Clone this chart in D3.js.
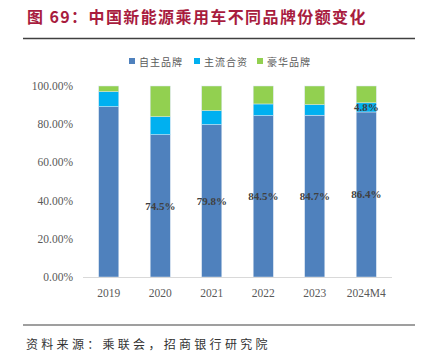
<!DOCTYPE html>
<html><head><meta charset="utf-8">
<script src="https://cdn.jsdelivr.net/npm/d3@7"></script>
<style>body{margin:0;background:#fff}svg{display:block}</style>
</head><body>
<script>
const categories = ["2019","2020","2021","2022","2023","2024M4"];
const domestic = [89.2, 74.5, 79.8, 84.5, 84.7, 86.4];
const jointVenture = [7.8, 9.4, 7.3, 6.1, 5.5, 4.8];
const luxury = [3.0, 16.1, 12.9, 9.4, 9.8, 8.8];
const seriesNames = ["自主品牌","主流合资","豪华品牌"];
const yTicks = [0,20,40,60,80,100];
const domesticLabels = [null,"74.5%","79.8%","84.5%","84.7%","86.4%"];
const jvLabels = [null,null,null,null,null,"4.8%"];

const W=424,H=360;
const svg=d3.select("body").append("svg").attr("width",W).attr("height",H);
const colors=["#4f81bd","#00b0f0","#92d050"];
const serif="'Liberation Serif','Times New Roman',serif";
const cjk="'Noto Sans CJK SC',sans-serif";

svg.append("text").attr("x",27).attr("y",23).attr("fill","#a81c3e")
  .attr("font-family",cjk).attr("font-weight","bold").attr("font-size",16).attr("letter-spacing",1.4)
  .text("图 69：中国新能源乘用车不同品牌份额变化");
svg.append("line").attr("x1",23).attr("x2",415).attr("y1",38.5).attr("y2",38.5).attr("stroke","#404040").attr("stroke-width",1.5);

const x=d3.scaleBand().domain(categories).range([83,392]).paddingInner(0.61).paddingOuter(0.305);
const y=d3.scaleLinear().domain([0,100]).range([277,86]);

// legend
const lx=[129,194,257];
seriesNames.forEach((n,i)=>{
  svg.append("rect").attr("x",lx[i]).attr("y",58).attr("width",6).attr("height",6).attr("fill",colors[i]);
  svg.append("text").attr("x",lx[i]+10).attr("y",65.5).attr("font-family",cjk).attr("font-size",10).attr("letter-spacing",1).attr("fill","#595959").text(n);
});

// y axis labels
svg.append("g").selectAll("text").data(yTicks).join("text")
  .attr("x",73).attr("y",d=>y(d)+4).attr("text-anchor","end")
  .attr("font-family",serif).attr("font-size",11.5).attr("fill","#595959")
  .text(d=>d.toFixed(2)+"%");

const stacked = categories.map((c,i)=>({c, vals:[domestic[i],jointVenture[i],luxury[i]]}));
const g=svg.append("g");
stacked.forEach((d,i)=>{
  let base=0;
  d.vals.forEach((v,k)=>{
    g.append("rect").attr("x",x(d.c)).attr("width",x.bandwidth())
      .attr("y",y(base+v)).attr("height",y(base)-y(base+v))
      .attr("fill",colors[k]).attr("stroke","#dce6f2").attr("stroke-width",0.5);
    base+=v;
  });
});

// axis line
svg.append("line").attr("x1",83).attr("x2",392).attr("y1",277.5).attr("y2",277.5).attr("stroke","#d9d9d9").attr("stroke-width",1);

// x labels
svg.append("g").selectAll("text").data(categories).join("text")
  .attr("x",d=>x(d)+x.bandwidth()/2).attr("y",297).attr("text-anchor","middle")
  .attr("font-family",serif).attr("font-size",11.5).attr("fill","#595959").text(d=>d);

// data labels
categories.forEach((c,i)=>{
  if(domesticLabels[i]) svg.append("text").attr("x",x(c)+x.bandwidth()/2).attr("y",y(domestic[i]/2)+4)
    .attr("text-anchor","middle").attr("font-family",serif).attr("font-weight","bold").attr("font-size",11).attr("fill","#404040").text(domesticLabels[i]);
  if(jvLabels[i]) svg.append("text").attr("x",x(c)+x.bandwidth()/2).attr("y",y(domestic[i]+jointVenture[i]/2)+4)
    .attr("text-anchor","middle").attr("font-family",serif).attr("font-weight","bold").attr("font-size",11).attr("fill","#404040").text(jvLabels[i]);
});

svg.append("line").attr("x1",23).attr("x2",415).attr("y1",325).attr("y2",325).attr("stroke","#404040").attr("stroke-width",1.2);
svg.append("text").attr("x",26).attr("y",349).attr("font-family",cjk).attr("font-size",12).attr("letter-spacing",3.3).attr("fill","#333").text("资料来源：乘联会，招商银行研究院");
</script>
</body></html>
